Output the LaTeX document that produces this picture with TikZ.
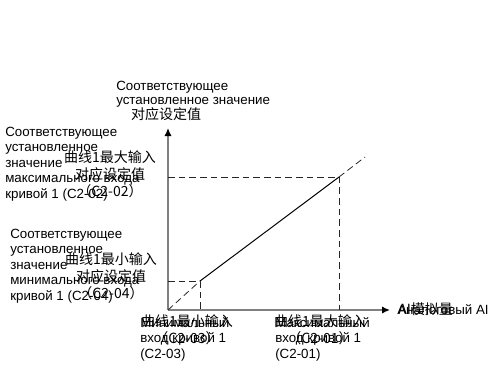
\documentclass[tikz,border=0pt]{standalone}
\usepackage{fontspec}
\setmainfont{Liberation Sans}
\newfontfamily\cjk{Noto Sans CJK SC}
\usetikzlibrary{arrows.meta}

\begin{document}
\begin{tikzpicture}[x=0.75pt,y=-0.75pt,
	axis/.style={draw=gray,line width=1.5pt,-{Latex[color=black,length=6pt,width=5.5pt]}},
	guide/.style={draw=black!85,dash pattern=on 5pt off 3pt,line width=0.6pt},
	rulab/.style={inner sep=0pt,anchor=base west,align=left,font=\fontsize{10}{11.6}\selectfont},
	cnlab/.style={inner sep=0pt,anchor=base,align=center,font=\cjk\fontsize{10.5}{12.4}\selectfont}]
	\useasboundingbox (0,0) rectangle (495,367);

	\coordinate (O) at (168,310);
	\coordinate (yTop) at (168,128);
	\coordinate (xEnd) at (390,310);
	\coordinate (L) at (200,281);
	\coordinate (H) at (339,177);
	\coordinate (E) at (365,157);
	\coordinate (yL) at (168,281);
	\coordinate (yH) at (168,177);
	\coordinate (xL) at (200,310);
	\coordinate (xH) at (339,310);

	\draw[axis] (O) -- (yTop);
	\draw[axis] (O) -- (xEnd);

	\draw[line width=0.75pt] (L) -- (H);
	\draw[guide] (O) -- (L);
	\draw[guide] (H) -- (E);
	\draw[guide] (yL) -- (L) -- (xL);
	\draw[guide] (yH) -- (H) -- (xH);

	% base of a multi-line node = its last line
	\node[rulab,font=\fontsize{10}{10.5}\selectfont] (ytitle) at (116,105) {Соответствующее\\установленное значение};
	\node[cnlab] (ytitlecn) at (166,119) {对应设定值};

	\node[rulab] (maxout) at (5,198) {Соответствующее\\установленное\\значение\\максимального входа\\кривой 1 (C2-02)};
	\node[cnlab] (maxoutcn) at (110,196) {曲线1最大输入\\对应设定值\\（C2-02）};

	\node[rulab] (minout) at (10,300) {Соответствующее\\установленное\\значение\\минимального входа\\кривой 1 (C2-04)};
	\node[cnlab] (minoutcn) at (111,298) {曲线1最小输入\\对应设定值\\（C2-04）};

	\node[rulab] (minin) at (140,358) {Минимальный\\вход кривой 1\\(C2-03)};
	\node[cnlab] (minincn) at (187,343.5) {曲线1最小输入\\（C2-03）};

	\node[rulab] (maxin) at (275,358) {Максимальный\\вход кривой 1\\(C2-01)};
	\node[cnlab] (maxincn) at (320,343.5) {曲线1最大输入\\（C2-01）};

	\node[rulab] (xtitle) at (397,314) {Аналоговый AI};
	\node[rulab,font=\cjk\fontsize{10.5}{12}\selectfont] (xtitlecn) at (398,314) {AI模拟量};
\end{tikzpicture}
\end{document}
